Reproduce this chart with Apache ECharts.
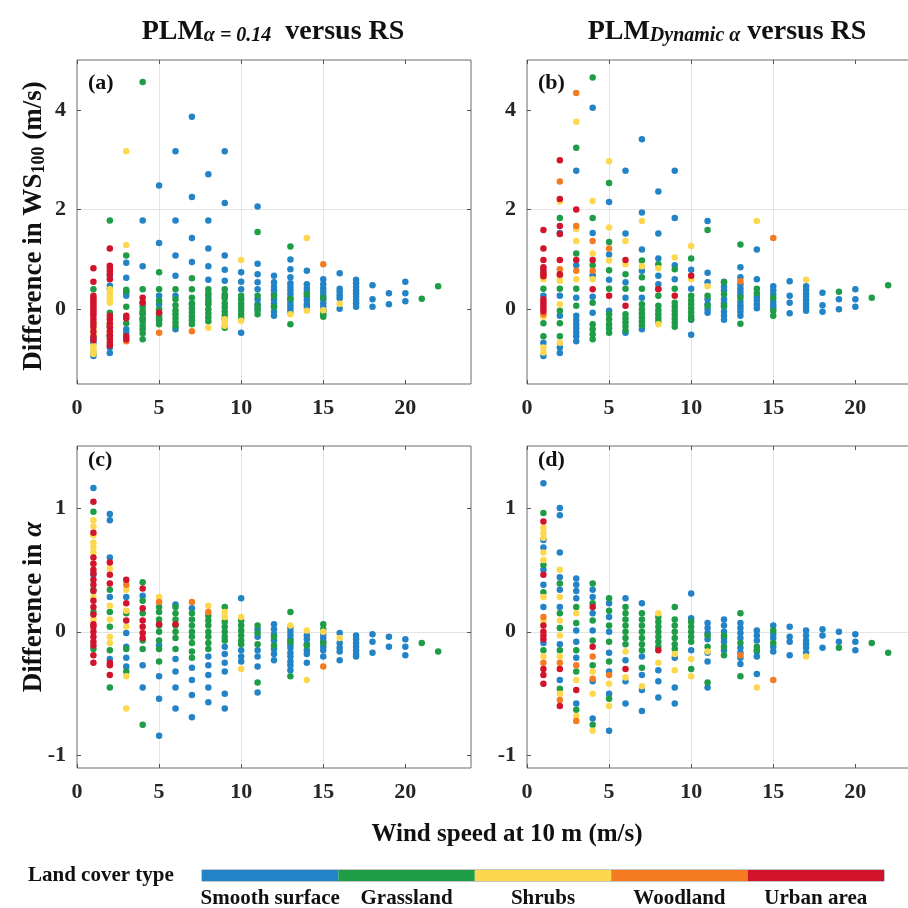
<!DOCTYPE html>
<html>
<head>
<meta charset="utf-8">
<script src="https://cdn.jsdelivr.net/npm/echarts@6/dist/echarts.min.js"></script>
<style>
  html, body { margin: 0; padding: 0; background: #fff; }
  #chart { width: 908px; height: 908px; }
</style>
</head>
<body>
<div id="chart"></div>
<script>
// land cover classes, in colour bar order
const landCovers = ["Smooth surface", "Grassland", "Shrubs", "Woodland", "Urban area"];
const coverColors = ["#2383c7", "#1e9c46", "#fdd84e", "#f57b22", "#d1132b"];

// each entry: [wind speed at 10 m, [differences]]
// (a) difference in WS100, PLM alpha = 0.14
const aSmooth = [[1, [-0.94, -0.88, -0.67, -0.6]], [2, [0.67, 0.47, -0.35, -0.55, -0.77, -0.88]],
  [3, [0.93, 0.63, 0.33, 0.27, -0.4, -0.47]], [4, [1.78, 0.86, -0.07, -0.2]], [5, [2.48, 1.33, 0.27, 0.1, -0.2]],
  [6, [3.17, 1.78, 1.08, 0.67, 0.27, -0.4]], [7, [3.86, 2.25, 1.43, 0.95, 0.1]],
  [8, [2.71, 1.78, 1.22, 0.86, 0.59, 0.27, 0.15]], [9, [3.17, 2.13, 1.08, 0.79, 0.57, 0.25]],
  [10, [0.74, 0.55, 0.4, -0.47]], [11, [2.06, 0.91, 0.7, 0.54, 0.4, 0.2, 0.1, 0.02]],
  [12, [0.67, 0.54, 0.45, 0.38, 0.3, 0.2, 0.12, 0.05, -0.05, -0.13]],
  [13, [1.0, 0.8, 0.64, 0.52, 0.45, 0.38, 0.3, 0.22, 0.15, 0.08, 0.02, -0.05]],
  [14, [0.77, 0.5, 0.42, 0.35, 0.25, 0.18, 0.1, 0.05]], [15, [0.6, 0.5, 0.42, 0.35, 0.28, 0.2, 0.12, 0.05, -0.02]],
  [16, [0.72, 0.41, 0.35, 0.28, 0.22, 0.01]], [17, [0.59, 0.52, 0.45, 0.38, 0.32, 0.25, 0.18, 0.12, 0.05]],
  [18, [0.48, 0.2, 0.05]], [19, [0.32, 0.1]], [20, [0.55, 0.32, 0.16]]];
const aGrass = [[1, [0.4, -0.3, -0.54]], [2, [1.78, 0.41, -0.07, -0.3, -0.52]], [3, [1.08, 0.39, 0.36, 0.05, -0.28]],
  [4, [4.56, 0.4, 0.13, 0.05, -0.03, -0.1, -0.18, -0.25, -0.33, -0.4, -0.48, -0.6]],
  [5, [0.74, 0.4, 0.17, 0.0, -0.08, -0.15, -0.22, -0.3]], [6, [0.4, 0.2, 0.08, -0.02, -0.1, -0.18, -0.26, -0.34]],
  [7, [0.62, 0.4, 0.23, 0.12, 0.02, -0.06, -0.14, -0.22, -0.3]], [8, [0.4, 0.32, 0.2, 0.1, 0.0, -0.08, -0.16, -0.24]],
  [9, [0.4, 0.3, 0.22, 0.12, 0.04, -0.04, -0.12, -0.2, -0.37]], [10, [0.27, 0.2, 0.12, 0.05, -0.02, -0.1, -0.18]],
  [11, [1.55, 0.27, 0.07, -0.02, -0.1]], [12, [0.27, 0.05]], [13, [1.26, 0.21, -0.3]], [14, [0.3]],
  [15, [0.23, -0.03, -0.1, -0.15]], [21, [0.21]], [22, [0.46]]];
const aShrubs = [[1, [-0.3, -0.4, -0.5, -0.74, -0.8, -0.86, -0.9]], [2, [0.4, 0.32, 0.25, 0.18, 0.13, -0.2, -0.3, -0.45]],
  [3, [3.17, 1.29]], [8, [-0.37]], [9, [-0.2, -0.27, -0.33]], [10, [0.99, -0.23]], [13, [-0.1]],
  [14, [1.43, -0.03]], [15, [-0.02]], [16, [0.11]]];
const aWood = [[3, [-0.64]], [5, [-0.47]], [7, [-0.44]], [15, [0.9]]];
const aUrban = [[1, [0.82, 0.55, 0.27, 0.22, 0.17, 0.12, 0.07, 0.02, -0.03, -0.08, -0.13, -0.2, -0.27, -0.35, -0.45, -0.55, -0.62]],
  [2, [1.22, 0.87, 0.82, 0.76, 0.7, 0.6, -0.13, -0.2, -0.28, -0.36, -0.44, -0.52, -0.6, -0.67, -0.73]],
  [3, [-0.13, -0.18, -0.54, -0.6]], [4, [0.23, 0.13]], [5, [-0.07]]];

// (b) difference in WS100, PLM dynamic alpha
const bSmooth = [[1, [0.27, -0.67, -0.94]], [2, [1.53, 0.27, -0.13, -0.77, -0.88]],
  [3, [2.78, 0.88, 0.23, -0.13, -0.22, -0.3, -0.38, -0.46, -0.54, -0.64]], [4, [4.04, 1.53, 0.68, 0.25, -0.07]],
  [5, [2.15, 1.1, 0.59, -0.03]], [6, [2.78, 1.52, 0.54, 0.23, -0.47]], [7, [3.41, 1.94, 1.2, 0.77, 0.23, -0.4]],
  [8, [2.36, 1.52, 1.02, 0.67, 0.5]], [9, [2.78, 1.83, 0.88, 0.6]], [10, [0.79, 0.41, -0.21, -0.51]],
  [11, [1.77, 0.73, 0.54, 0.2, 0.1, 0.0, -0.07]], [12, [0.55, 0.45, 0.38, 0.2, 0.12, 0.05, -0.05, -0.13, -0.21]],
  [13, [0.84, 0.64, 0.5, 0.42, 0.35, 0.28, 0.15, 0.08, 0.02, -0.05, -0.13]], [14, [1.2, 0.6, 0.25, 0.18, 0.1, 0.02]],
  [15, [0.46, 0.38, 0.3, 0.15, 0.08, 0.02]], [16, [0.56, 0.27, 0.13, -0.08]],
  [17, [0.46, 0.39, 0.32, 0.25, 0.18, 0.11, 0.04, -0.03]], [18, [0.33, 0.08, -0.05]], [19, [0.2, 0.0]], [20, [0.4, 0.2, 0.05]]];
const bGrass = [[1, [0.41, -0.28, -0.54]], [2, [1.83, 0.41, -0.03, -0.28, -0.54]], [3, [3.24, 1.12, 0.41, 0.07]],
  [4, [4.65, 1.83, 0.88, 0.13, -0.3, -0.4, -0.5, -0.6]], [5, [2.53, 1.35, 0.78, 0.41, -0.1, -0.2, -0.3, -0.38, -0.47]],
  [6, [0.7, 0.41, -0.1, -0.18, -0.26, -0.34, -0.42]], [7, [0.98, 0.64, 0.41, 0.1, 0.0, -0.08, -0.16, -0.24, -0.32]],
  [8, [0.9, 0.41, 0.27, 0.07, -0.02, -0.1, -0.18, -0.25]], [9, [0.8, 0.41, 0.13, 0.05, -0.03, -0.11, -0.19, -0.27, -0.35]],
  [10, [1.02, 0.27, 0.18, 0.1, 0.02, -0.06, -0.14, -0.2]], [11, [1.59, 0.27, 0.07]], [12, [0.54, 0.3, 0.07]],
  [13, [1.3, 0.23, -0.29]], [14, [0.41, 0.32]], [15, [0.23, -0.03, -0.13]], [19, [0.35]], [21, [0.23]], [22, [0.48]]];
const bShrubs = [[1, [0.6, -0.15, -0.77, -0.87]], [2, [2.16, 0.57, 0.1, -0.67]], [3, [3.76, 1.61, 1.37, 0.6]],
  [4, [2.17, 1.12, 0.6]], [5, [2.97, 1.64, 0.98]], [6, [1.37, 0.9]], [7, [1.77, 0.86]], [8, [0.82, -0.3]],
  [9, [1.04]], [10, [1.27, 0.6]], [11, [0.46]], [14, [1.77]], [17, [0.59]]];
const bWood = [[1, [0.7, -0.1]], [2, [2.56, 0.8, 0.68]], [3, [4.34, 1.67, 0.77]], [4, [1.37, 0.77]], [5, [1.22]],
  [13, [0.56]], [15, [1.43]]];
const bUrban = [[1, [1.59, 1.22, 0.99, 0.84, 0.78, 0.72, 0.66, 0.2, 0.14, 0.08, 0.02, -0.04]],
  [2, [2.99, 2.21, 1.67, 1.51, 0.99, 0.7]], [3, [2.0, 0.99]], [4, [0.99, 0.4]], [5, [0.27]], [6, [0.99, 0.07]],
  [8, [0.4]], [9, [0.27]], [10, [0.67]]];

// (c) difference in alpha, PLM alpha = 0.14
const cSmooth = [[1, [1.16, 0.46]], [2, [0.95, 0.9, 0.6, 0.28, -0.22]], [3, [0.28, -0.01, -0.12, -0.21, -0.28]],
  [4, [0.29, -0.27, -0.45]], [5, [-0.11, -0.36, -0.54, -0.84]], [6, [0.22, -0.22, -0.32, -0.45, -0.62]],
  [7, [0.19, -0.29, -0.39, -0.51, -0.69]], [8, [-0.2, -0.27, -0.35, -0.45, -0.57]],
  [9, [-0.12, -0.18, -0.25, -0.32, -0.5, -0.62]], [10, [0.27, -0.15, -0.2, -0.24]],
  [11, [0.02, -0.04, -0.15, -0.2, -0.28, -0.49]], [12, [0.06, 0.02, -0.02, -0.07, -0.14, -0.18, -0.23]],
  [13, [0.03, 0.0, -0.03, -0.06, -0.1, -0.13, -0.17, -0.2, -0.24, -0.27, -0.31]],
  [14, [-0.03, -0.06, -0.1, -0.15, -0.18, -0.25]], [15, [-0.02, -0.05, -0.08, -0.12, -0.15, -0.2]],
  [16, [-0.01, -0.09, -0.13, -0.16, -0.23]], [17, [-0.03, -0.06, -0.09, -0.12, -0.15, -0.18, -0.2]],
  [18, [-0.02, -0.08, -0.17]], [19, [-0.04, -0.12]], [20, [-0.06, -0.12, -0.19]]];
const cGrass = [[1, [0.97, 0.34, 0.16, -0.14]], [2, [0.34, 0.16, 0.04, -0.15, -0.45]], [3, [0.15, -0.14, -0.32]],
  [4, [0.4, 0.25, 0.15, -0.07, -0.14, -0.75]], [5, [0.2, 0.16, 0.1, 0.05, 0.0, -0.07, -0.14, -0.24]],
  [6, [0.2, 0.15, 0.1, 0.05, 0.0, -0.05, -0.14]], [7, [0.15, 0.1, 0.05, 0.0, -0.04, -0.09, -0.16, -0.21]],
  [8, [0.13, 0.09, 0.05, 0.0, -0.04, -0.09, -0.14]], [9, [0.2, 0.08, 0.04, 0.0, -0.04, -0.07]],
  [10, [0.09, 0.05, 0.01, -0.03, -0.07, -0.1]], [11, [0.05, -0.01, -0.1, -0.41]], [12, [-0.04, -0.11]],
  [13, [0.16, -0.08, -0.36]], [14, [-0.11]], [15, [0.06, 0.02, -0.09]], [21, [-0.09]], [22, [-0.16]]];
const cShrubs = [[1, [0.9, 0.85, 0.78, 0.72, 0.68, 0.64, 0.55, 0.28, 0.1]], [2, [0.51, 0.21, 0.1, -0.04, -0.09]],
  [3, [0.34, 0.17, 0.04, -0.36, -0.62]], [5, [0.28]], [8, [0.21]], [9, [0.16, 0.12]], [10, [0.12, -0.3]],
  [13, [0.05]], [14, [0.01, -0.39]], [15, [0.0]], [16, [-0.05]]];
const cWood = [[3, [0.38]], [5, [0.24]], [7, [0.24]], [8, [0.16]], [15, [-0.28]]];
const cUrban = [[1, [1.05, 0.8, 0.6, 0.55, 0.5, 0.47, 0.42, 0.38, 0.33, 0.25, 0.2, 0.14, 0.06, 0.04, 0.0, -0.04, -0.08, -0.11, -0.19, -0.25]],
  [2, [0.56, 0.46, 0.39, -0.25, -0.27, -0.35]], [3, [0.42, 0.23, 0.09]], [4, [0.35, 0.19, 0.09, 0.04, -0.01, -0.05]],
  [5, [0.06]], [6, [0.06]]];

// (d) difference in alpha, PLM dynamic alpha
const dSmooth = [[1, [1.2, 0.74, 0.68, 0.5, 0.38, 0.2, -0.09]], [2, [1.0, 0.94, 0.64, 0.44, 0.34, 0.2, -0.1, -0.39]],
  [3, [0.43, 0.38, 0.33, 0.27, 0.01, -0.08, -0.21, -0.58]], [4, [0.34, 0.28, 0.15, 0.01, -0.4, -0.7]],
  [5, [0.23, 0.12, 0.0, -0.17, -0.32, -0.5, -0.8]], [6, [0.27, -0.23, -0.4, -0.58]], [7, [0.23, -0.2, -0.35, -0.47, -0.64]],
  [8, [-0.31, -0.4, -0.53]], [9, [-0.21, -0.45, -0.58]], [10, [0.31, 0.11, -0.15]],
  [11, [0.07, 0.03, -0.01, -0.06, -0.17, -0.24, -0.45]], [12, [0.1, 0.05, 0.0, -0.05, -0.08, -0.15]],
  [13, [0.07, 0.03, -0.01, -0.05, -0.13, -0.17, -0.21, -0.26]], [14, [0.01, -0.03, -0.07, -0.16, -0.2, -0.34]],
  [15, [0.05, -0.02, -0.05, -0.12, -0.16]], [16, [0.04, -0.04, -0.08, -0.19]],
  [17, [0.01, -0.03, -0.07, -0.1, -0.13, -0.17]], [18, [0.02, -0.03, -0.13]], [19, [0.0, -0.08]], [20, [-0.02, -0.08, -0.15]]];
const dGrass = [[1, [0.96, 0.54, 0.32, -0.15]], [2, [0.39, 0.15, 0.03, -0.15, -0.46]], [3, [0.2, 0.07, -0.15, -0.32, -0.63]],
  [4, [0.39, 0.23, 0.09, -0.07, -0.27, -0.75]], [5, [0.27, 0.17, 0.05, -0.08, -0.24, -0.54]],
  [6, [0.2, 0.15, 0.1, 0.05, 0.0, -0.05, -0.1]], [7, [0.15, 0.1, 0.05, 0.0, -0.05, -0.1, -0.15, -0.29]],
  [8, [0.12, 0.08, 0.04, 0.0, -0.04, -0.08, -0.12]], [9, [0.2, 0.1, 0.05, 0.0, -0.05, -0.1, -0.14]],
  [10, [0.08, 0.04, 0.0, -0.04, -0.08, -0.3]], [11, [-0.03, -0.12, -0.41]], [12, [-0.03, -0.12, -0.19]],
  [13, [0.15, -0.09, -0.36]], [14, [-0.12, -0.15]], [15, [0.01, -0.09]], [19, [-0.13]], [21, [-0.09]], [22, [-0.17]]];
const dShrubs = [[1, [0.84, 0.8, 0.76, 0.64, 0.58, 0.28, 0.09, -0.2]], [2, [0.5, 0.28, 0.09, -0.03, -0.2, -0.5]],
  [3, [0.15, -0.39, -0.68]], [4, [-0.32, -0.5, -0.8]], [5, [-0.42, -0.6]], [6, [-0.16, -0.37]], [7, [-0.44]],
  [8, [0.15, -0.25]], [9, [-0.18, -0.31]], [10, [-0.22, -0.36]], [11, [-0.16]], [14, [-0.45]], [17, [-0.2]]];
const dWood = [[1, [0.12, -0.25]], [2, [-0.25, -0.55]], [3, [-0.27, -0.72]], [4, [-0.2, -0.38]], [5, [-0.35]],
  [13, [-0.19]], [15, [-0.39]]];
const dUrban = [[1, [0.89, 0.46, 0.05, 0.0, -0.03, -0.06, -0.3, -0.35, -0.42]], [2, [-0.3, -0.6]], [3, [-0.47]],
  [4, [0.2, -0.12]], [6, [-0.3]], [8, [-0.15]]];

// tick values
const xTicks = [0, 5, 10, 15, 20];
const wsTicks = [0, 2, 4];
const alphaTicks = [-1, 0, 1];

const serif = "'Liberation Serif', 'Times New Roman', serif";

function points(cols) {
	const out = [];
	cols.forEach(([x, ys]) => ys.forEach((y) => out.push([x, y])));
	return out;
}

const panels = [
	{ sets: [aSmooth, aGrass, aShrubs, aWood, aUrban], box: [77, 60, 394, 324], y: [-1.5, 5], ticks: wsTicks },
	{ sets: [bSmooth, bGrass, bShrubs, bWood, bUrban], box: [527, 60, 394, 324], y: [-1.5, 5], ticks: wsTicks },
	{ sets: [cSmooth, cGrass, cShrubs, cWood, cUrban], box: [77, 446, 394, 322], y: [-1.1, 1.5], ticks: alphaTicks },
	{ sets: [dSmooth, dGrass, dShrubs, dWood, dUrban], box: [527, 446, 394, 322], y: [-1.1, 1.5], ticks: alphaTicks },
];

const tickLabel = { fontFamily: serif, fontWeight: "bold", fontSize: 22, color: "#262626" };
const tickLine = { color: "#555", width: 1 };
const gridLine = { color: "#e4e4e4", width: 1 };
const noLine = { show: false, onZero: false };
const grid = [], xAxis = [], yAxis = [], series = [];

panels.forEach((p, i) => {
	grid.push({
		left: p.box[0], top: p.box[1], width: p.box[2], height: p.box[3],
		outerBoundsMode: "none", containLabel: false,
		show: true, borderColor: "#6a6a6a", borderWidth: 1, backgroundColor: "transparent",
	});
	const xTick = { inside: true, length: 4, lineStyle: tickLine, customValues: xTicks };
	const xBase = { gridIndex: i, type: "value", min: 0, max: 24, interval: 5, axisLine: noLine, axisTick: xTick };
	xAxis.push(Object.assign({}, xBase, {
		position: "bottom",
		axisLabel: Object.assign({ margin: 13, showMaxLabel: false, formatter: (v) => (xTicks.includes(v) ? String(v) : "") }, tickLabel),
		splitLine: { show: true, showMinLine: false, showMaxLine: false, lineStyle: gridLine },
	}));
	xAxis.push(Object.assign({}, xBase, { position: "top", axisLabel: { show: false }, splitLine: { show: false } }));
	const yTick = { inside: true, length: 4, lineStyle: tickLine, customValues: p.ticks };
	const yBase = { gridIndex: i, type: "value", min: p.y[0], max: p.y[1], splitNumber: 3, axisLine: noLine, axisTick: yTick };
	yAxis.push(Object.assign({}, yBase, {
		position: "left",
		axisLabel: Object.assign({ margin: 11, showMinLabel: false, showMaxLabel: false }, tickLabel),
		splitLine: { show: true, showMinLine: false, showMaxLine: false, lineStyle: gridLine },
	}));
	yAxis.push(Object.assign({}, yBase, { position: "right", axisLabel: { show: false }, splitLine: { show: false } }));

	p.sets.forEach((set, k) => {
		series.push({
			type: "scatter",
			name: landCovers[k],
			xAxisIndex: 2 * i,
			yAxisIndex: 2 * i,
			data: points(set),
			symbolSize: 6.5,
			silent: true,
			itemStyle: { color: coverColors[k], opacity: 1 },
			z: 2 + k,
		});
	});
});

// colour bar for land cover type
grid.push({ left: 202, top: 870, width: 682, height: 11, outerBoundsMode: "none", show: true, borderColor: "#8a8a8a", borderWidth: 1 });
xAxis.push({ gridIndex: 4, type: "value", min: 0, max: landCovers.length, show: false });
yAxis.push({ gridIndex: 4, type: "category", data: ["cover"], show: false });
landCovers.forEach((name, k) => {
	series.push({
		type: "bar",
		name: name,
		xAxisIndex: 8,
		yAxisIndex: 8,
		stack: "cover",
		barWidth: "100%",
		data: [1],
		silent: true,
		itemStyle: { color: coverColors[k] },
		label: {
			show: true, position: "bottom", distance: 7, formatter: name,
			fontFamily: serif, fontWeight: "bold", fontSize: 21, color: "#111",
		},
	});
});

const mainRich = { fontFamily: serif, fontWeight: "bold", fontSize: 28, lineHeight: 40, verticalAlign: "bottom" };
const subRich = { fontFamily: serif, fontWeight: "bold", fontStyle: "italic", fontSize: 20, lineHeight: 20, verticalAlign: "bottom" };
const nameRich = { fontFamily: serif, fontWeight: "bold", fontSize: 27, lineHeight: 38, verticalAlign: "bottom" };
const nameSub = { fontFamily: serif, fontWeight: "bold", fontSize: 18, lineHeight: 12, verticalAlign: "bottom" };
const nameIt = { fontFamily: serif, fontWeight: "bold", fontStyle: "italic", fontSize: 27, lineHeight: 38, verticalAlign: "bottom" };

function label(text, x, y, size, align) {
	return {
		type: "text", x: x, y: y, silent: true,
		style: { text: text, fontFamily: serif, fontWeight: "bold", fontSize: size, fill: "#111", align: align || "left", verticalAlign: "middle" },
	};
}

const graphic = [
	{
		type: "text", x: 273, y: 6, silent: true,
		style: { text: "{m|PLM}{s|α = 0.14}{m|  versus RS}", align: "center", verticalAlign: "top", fill: "#111", rich: { m: mainRich, s: subRich } },
	},
	{
		type: "text", x: 727, y: 6, silent: true,
		style: { text: "{m|PLM}{s|Dynamic α}{m| versus RS}", align: "center", verticalAlign: "top", fill: "#111", rich: { m: mainRich, s: subRich } },
	},
	{
		type: "text", x: 29, y: 226, rotation: Math.PI / 2, silent: true,
		style: { text: "{m|Difference in WS}{s|100}{m| (m/s)}", align: "center", verticalAlign: "middle", fill: "#111", rich: { m: nameRich, s: nameSub } },
	},
	{
		type: "text", x: 29, y: 607, rotation: Math.PI / 2, silent: true,
		style: { text: "{m|Difference in }{i|α}", align: "center", verticalAlign: "middle", fill: "#111", rich: { m: nameRich, i: nameIt } },
	},
	label("(a)", 88, 83, 22),
	label("(b)", 538, 83, 22),
	label("(c)", 88, 460, 22),
	label("(d)", 538, 460, 22),
	label("Wind speed at 10 m (m/s)", 507, 835, 25, "center"),
	label("Land cover type", 28, 876, 21),
];

const chart = echarts.init(document.getElementById("chart"), null, { renderer: "canvas", width: 908, height: 908 });
chart.setOption({
	animation: false,
	backgroundColor: "#fff",
	grid: grid,
	xAxis: xAxis,
	yAxis: yAxis,
	series: series,
	graphic: graphic,
});
</script>
</body>
</html>
